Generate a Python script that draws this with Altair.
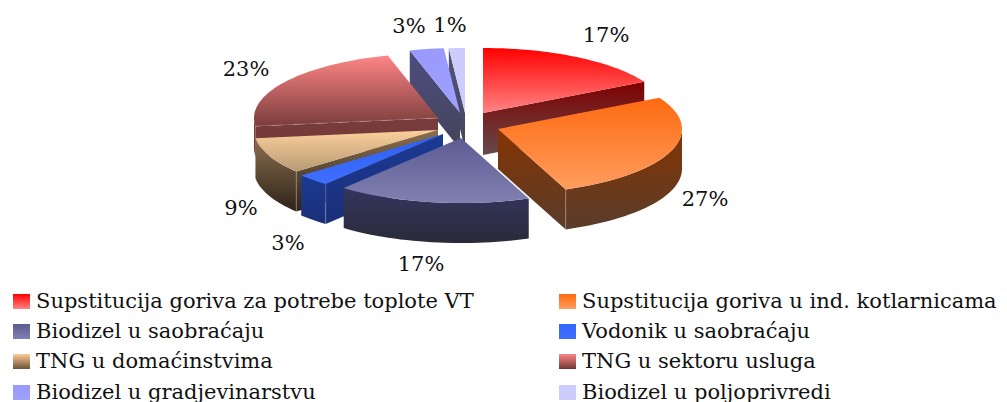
import math
import altair as alt
import pandas as pd

categories = ["Supstitucija goriva za potrebe toplote VT", "Supstitucija goriva u ind. kotlarnicama",
              "Biodizel u saobraćaju", "Vodonik u saobraćaju", "TNG u domaćinstvima",
              "TNG u sektoru usluga", "Biodizel u gradjevinarstvu", "Biodizel u poljoprivredi"]
values = [17, 27, 17, 3, 9, 22.6, 3, 1.4]
percent_labels = ["17%", "27%", "17%", "3%", "9%", "23%", "3%", "1%"]

# layout: exploded apex of each slice and the place of its label
apex_x = [483, 498, 461, 443, 438, 438, 460, 465]
apex_y = [113, 129, 138, 134, 130, 118, 113, 113]
depths = [42, 40, 40, 40, 40, 30, 36, 36]
label_x = [606, 705, 421, 288, 241, 246, 409, 450]
label_y = [36, 200, 265, 244, 209, 70, 27, 26]
RX, RY = 184, 65
top_stops = [["#ff0000", "#ff8484"], ["#ff6a10", "#ff9d5e"], ["#5c5c92", "#8080b2"], ["#2f5ff0", "#3f6fff"],
             ["#fbd09c", "#b89a74"], ["#ff8585", "#7a3c3c"], ["#9999ff", "#a0a0ff"], ["#ccccff", "#ccccff"]]
wall_stops = [["#800000", "#664a4a"], ["#843400", "#5a3c2c"], ["#35355e", "#2a2a3a"], ["#1b3a94", "#1a2f78"],
              ["#8a6f50", "#2e2318"], ["#7a3c3c", "#703838"], ["#4d4d80", "#44445a"], ["#55557a", "#44445a"]]
swatch_stops = [["#ff0000", "#ff8484"], ["#ff6a10", "#ff9d5e"], ["#5c5c92", "#8080b2"], ["#3366ff", "#3f6fff"],
                ["#ffcc99", "#6b5238"], ["#ff8585", "#703838"], ["#9999ff", "#a0a0ff"], ["#ccccff", "#ccccff"]]
paint_order = [7, 6, 5, 0, 4, 3, 2, 1]
FONT, FONT_SIZE = "DejaVu Serif", 21

X = alt.Scale(domain=[8, 999])
Y = alt.Scale(domain=[402, 8])


def grad(stops):
    return alt.Gradient(gradient="linear", x1=0, x2=0, y1=0, y2=1,
                        stops=[alt.GradientStop(color=stops[0], offset=0), alt.GradientStop(color=stops[1], offset=1)])


def frame(points):
    return pd.DataFrame([{"x": p[0], "y": p[1], "i": n} for n, p in enumerate(points)])


def enc(ch):
    return ch.encode(x=alt.X("x:Q", scale=X, axis=None), y=alt.Y("y:Q", scale=Y, axis=None), order="i:Q")


def poly(points, stops):
    return enc(alt.Chart(frame(points)).mark_line(fill=grad(stops), strokeWidth=0, strokeOpacity=0))


def seam(points, dash=None):
    kw = {"strokeDash": dash} if dash else {}
    return enc(alt.Chart(frame(points)).mark_line(color="#ffffff", opacity=0.3, strokeWidth=0.8, **kw))


def on_rim(k, deg, drop=0):
    a = math.radians(deg)
    return (apex_x[k] + RX * math.sin(a), apex_y[k] - RY * math.cos(a) + drop)


def arc(k, a0, a1, drop=0):
    n = max(2, int(abs(a1 - a0) / 2) + 1)
    return [on_rim(k, a0 + (a1 - a0) * j / (n - 1), drop) for j in range(n)]


total = sum(values)
starts = [sum(values[:i]) / total * 360 for i in range(len(values))]
ends = [sum(values[:i + 1]) / total * 360 for i in range(len(values))]

layers = []
for k in paint_order:
    a0, a1, d = starts[k], ends[k], depths[k]
    c = (apex_x[k], apex_y[k])
    c2 = (c[0], c[1] + d)
    if 180 < a0 < 360:
        p = on_rim(k, a0)
        layers.append(poly([c, p, (p[0], p[1] + d), c2], wall_stops[k]))
    if 0 < a1 < 180:
        p = on_rim(k, a1)
        layers.append(poly([c, p, (p[0], p[1] + d), c2], wall_stops[k]))
    lo, hi = max(a0, 90), min(a1, 270)
    if lo < hi:
        layers.append(poly(arc(k, lo, hi) + arc(k, hi, lo, d), wall_stops[k]))
    layers.append(poly([c] + arc(k, a0, a1), top_stops[k]))
    if k == 5:
        layers.append(seam([c, on_rim(k, a0)], dash=[12, 10]))
    if k == 4:
        p = on_rim(k, a0)
        layers.append(seam([p, (p[0], p[1] + d)]))
    if k == 3:
        p = on_rim(k, a0)
        layers.append(seam([p, (p[0], p[1] + d)]))
    if k == 1:
        p = on_rim(k, a1)
        layers.append(seam([p, (p[0], p[1] + d)]))

cols = [13, 559]
rows = [294, 324, 354, 385]
legend_text = []
for i, name in enumerate(categories):
    cx, ry = cols[i % 2], rows[i // 2]
    sw = pd.DataFrame({"x": [cx], "x2": [cx + 17], "y": [ry], "y2": [ry + 15]})
    layers.append(alt.Chart(sw).mark_rect(fill=grad(swatch_stops[i])).encode(
        x=alt.X("x:Q", scale=X, axis=None), x2="x2:Q",
        y=alt.Y("y:Q", scale=Y, axis=None), y2="y2:Q"))
    legend_text.append({"x": cx + 23, "y": ry + 8, "t": name})

pct = pd.DataFrame({"x": label_x, "y": label_y, "t": percent_labels})
layers.append(alt.Chart(pct).mark_text(font=FONT, fontSize=FONT_SIZE, color="#111111").encode(
    x=alt.X("x:Q", scale=X, axis=None), y=alt.Y("y:Q", scale=Y, axis=None), text="t:N"))
layers.append(alt.Chart(pd.DataFrame(legend_text)).mark_text(
    font=FONT, fontSize=FONT_SIZE, color="#111111", align="left", baseline="middle").encode(
    x=alt.X("x:Q", scale=X, axis=None), y=alt.Y("y:Q", scale=Y, axis=None), text="t:N"))

chart = alt.layer(*layers).properties(
    width=991, height=394, padding=0, autosize=alt.AutoSizeParams(type="none"), background="white"
).configure_view(stroke=None)
chart.save("out.html", embed_options={"renderer": "svg", "actions": False})
